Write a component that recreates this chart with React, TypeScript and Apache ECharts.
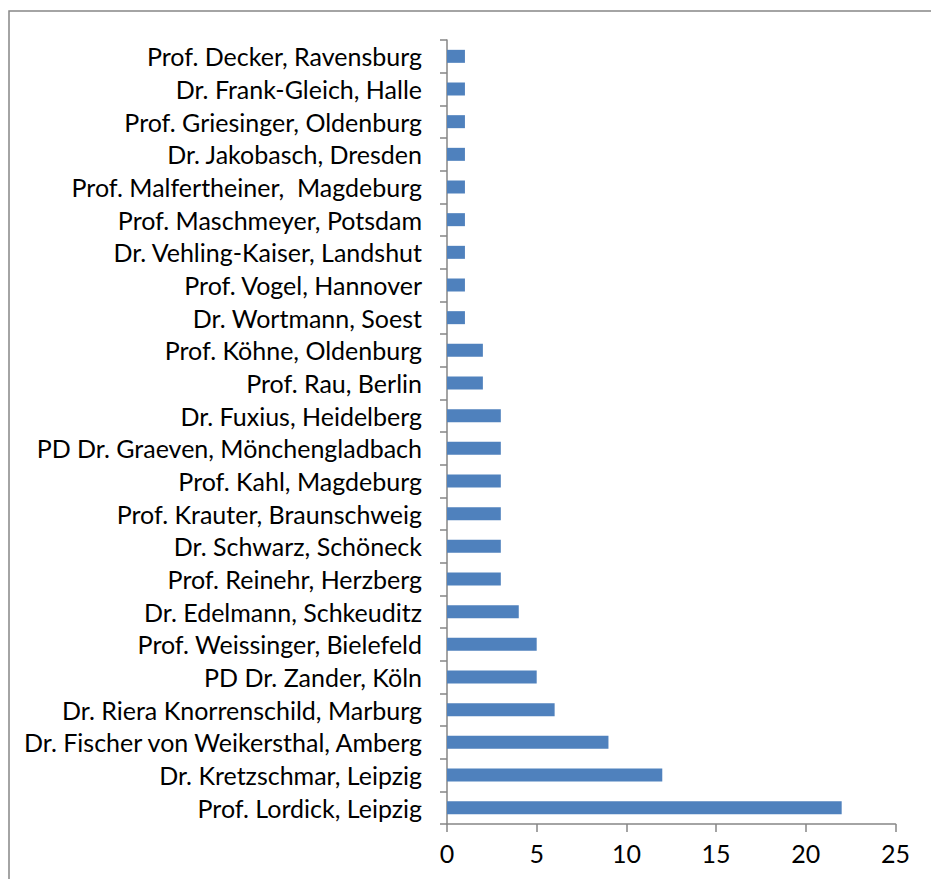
import React, { useEffect, useRef } from "react";
import * as echarts from "echarts";

const categories: string[] = [
  "Prof. Decker, Ravensburg",
  "Dr. Frank-Gleich, Halle",
  "Prof. Griesinger, Oldenburg",
  "Dr. Jakobasch, Dresden",
  "Prof. Malfertheiner,  Magdeburg",
  "Prof. Maschmeyer, Potsdam",
  "Dr. Vehling-Kaiser, Landshut",
  "Prof. Vogel, Hannover",
  "Dr. Wortmann, Soest",
  "Prof. Köhne, Oldenburg",
  "Prof. Rau, Berlin",
  "Dr. Fuxius, Heidelberg",
  "PD Dr. Graeven, Mönchengladbach",
  "Prof. Kahl, Magdeburg",
  "Prof. Krauter, Braunschweig",
  "Dr. Schwarz, Schöneck",
  "Prof. Reinehr, Herzberg",
  "Dr. Edelmann, Schkeuditz",
  "Prof. Weissinger, Bielefeld",
  "PD Dr. Zander, Köln",
  "Dr. Riera Knorrenschild, Marburg",
  "Dr. Fischer von Weikersthal, Amberg",
  "Dr. Kretzschmar, Leipzig",
  "Prof. Lordick, Leipzig",
];

const values: number[] = [1, 1, 1, 1, 1, 1, 1, 1, 1, 2, 2, 3, 3, 3, 3, 3, 3, 4, 5, 5, 6, 9, 12, 22];

const xMin = 0;
const xMax = 25;
const xInterval = 5;

export default function App() {
  const ref = useRef<HTMLDivElement>(null);
  useEffect(() => {
    if (!ref.current) return;
    const chart = echarts.init(ref.current, undefined, { renderer: "svg" });
    const font = "Lato, 'Open Sans', sans-serif";
    const axisColor = "#868686";
    chart.setOption({
      animation: false,
      backgroundColor: "#ffffff",
      graphic: [
        {
          type: "rect",
          shape: { x: 9, y: 11, width: 1200, height: 1200 },
          style: { fill: "none", stroke: "#878787", lineWidth: 1.5 },
          silent: true,
        },
      ],
      grid: { left: 447, top: 40, width: 448.5, height: 784, containLabel: false },
      xAxis: {
        type: "value",
        min: xMin,
        max: xMax,
        interval: xInterval,
        splitLine: { show: false },
        axisLine: { show: true, lineStyle: { color: axisColor, width: 1.5 } },
        axisTick: { show: true, length: 8, lineStyle: { color: axisColor, width: 1.5 } },
        axisLabel: { color: "#000", fontFamily: font, fontSize: 25, margin: 16 },
      },
      yAxis: {
        type: "category",
        inverse: true,
        data: categories,
        axisLine: { show: true, lineStyle: { color: axisColor, width: 1.5 } },
        axisTick: { show: true, length: 7, alignWithLabel: false, lineStyle: { color: axisColor, width: 1.5 } },
        axisLabel: { color: "#000", fontFamily: font, fontSize: 25, margin: 25, interval: 0 },
      },
      series: [
        {
          type: "bar",
          data: values,
          barWidth: 13,
          itemStyle: { color: "#4F81BD" },
        },
      ],
    });
    return () => chart.dispose();
  }, []);
  return (
    <div
      ref={ref}
      style={{ position: "fixed", left: 0, top: 0, width: 931, height: 879 }}
    />
  );
}
